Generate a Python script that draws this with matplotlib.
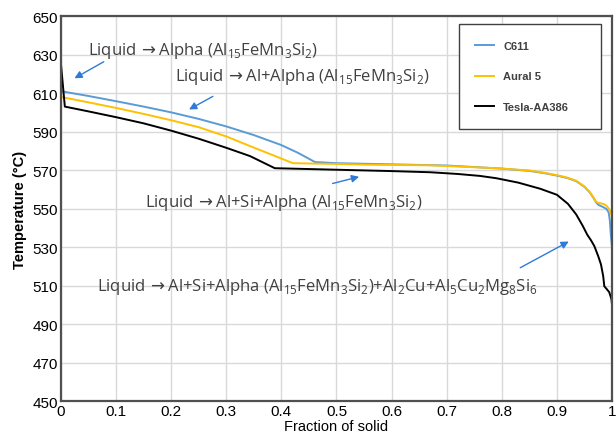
import matplotlib
matplotlib.use('Agg')
import matplotlib.pyplot as plt

# Daten
fs_c611 = [0, 0.05, 0.1, 0.15, 0.2, 0.25, 0.3, 0.35, 0.4, 0.43, 0.461, 0.5, 0.6, 0.7, 0.8, 0.85, 0.88, 0.906,
           0.92, 0.935, 0.95, 0.96, 0.967, 0.971, 0.975, 0.984, 0.99, 0.994, 0.996, 0.998, 1.0]
T_c611 = [611, 608.5, 605.8, 603, 600, 596.6, 592.7, 588.2, 583, 579, 574.2, 573.6, 573.0, 572.4, 570.8, 569.6, 568.3, 566.8,
          565.8, 564.3, 561.3, 558.3, 555.3, 553.3, 552, 550.8, 549.8, 548, 544, 536, 530]

fs_aural = [0, 0.05, 0.1, 0.15, 0.2, 0.25, 0.3, 0.343, 0.38, 0.421, 0.5, 0.56, 0.67, 0.79, 0.85, 0.88, 0.906,
            0.92, 0.935, 0.95, 0.96, 0.967, 0.971, 0.975, 0.985, 0.99, 0.995, 0.999, 1.0]
T_aural = [608, 605.2, 602.3, 599.2, 595.9, 592.3, 587.5, 582.5, 578.3, 573.6, 573.2, 572.8, 572.5, 571, 569.8, 568.5, 567,
           566, 564.5, 561.5, 558.5, 555.5, 553.6, 553, 552.4, 551.5, 549.7, 547, 545]

fs_tesla = [0, 0.007, 0.05, 0.1, 0.15, 0.2, 0.25, 0.3, 0.343, 0.388, 0.5, 0.6, 0.67, 0.72, 0.76, 0.79, 0.83, 0.87, 0.9, 0.92, 0.935,
            0.947, 0.955, 0.962, 0.968, 0.975, 0.98, 0.984, 0.986, 0.991, 0.995, 0.999, 1.0]
T_tesla = [625, 603, 600.5, 597.5, 594.3, 590.5, 586.3, 581.6, 577.3, 571, 570.2, 569.5, 568.9, 568, 567, 565.8, 563.5, 560.3, 557.2, 552.5, 547,
           541, 536.5, 533.5, 530.5, 525.3, 521, 515, 509.7, 508, 506.6, 503, 500]

serien = [("C611", fs_c611, T_c611, "#5b9bd5"),
          ("Aural 5", fs_aural, T_aural, "#ffc000"),
          ("Tesla-AA386", fs_tesla, T_tesla, "#000000")]

# Beschriftungen: Text, Textposition, Pfeil-Start, Pfeil-Spitze
sub = lambda s: r'$_{\mathdefault{' + s + '}}$'
pfeil = r'$\,\rightarrow$'
alpha_txt = 'Al' + sub('15') + 'FeMn' + sub('3') + 'Si' + sub('2')
texte = ['Liquid' + pfeil + 'Alpha (' + alpha_txt + ')',
         'Liquid' + pfeil + 'Al+Alpha (' + alpha_txt + ')',
         'Liquid' + pfeil + 'Al+Si+Alpha (' + alpha_txt + ')',
         'Liquid' + pfeil + 'Al+Si+Alpha (' + alpha_txt + ')+Al' + sub('2') + 'Cu+Al' + sub('5') + 'Cu' + sub('2') + 'Mg' + sub('8') + 'Si' + sub('6')]
text_pos = [(0.049, 632.5), (0.207, 618.8), (0.152, 553.4), (0.065, 509.7)]
pfeil_von = [(0.082, 627), (0.28, 609), (0.488, 562.7), (0.829, 518.6)]
pfeil_nach = [(0.02, 617), (0.228, 600.8), (0.546, 566.9), (0.926, 533.6)]

fig = plt.figure(figsize=(6.16, 4.39), dpi=100)
ax = fig.add_axes([0.099, 0.084, 0.8945, 0.877])

for name, x, y, farbe in serien:
    ax.plot(x, y, color=farbe, lw=1.4, label=name)

for t, p, a, b in zip(texte, text_pos, pfeil_von, pfeil_nach):
    ax.text(p[0], p[1], t, fontsize=12, family='Open Sans', color='#404040', va='center', ha='left')
    ax.annotate('', xy=b, xytext=a,
                arrowprops=dict(arrowstyle='-|>', color='#2f7ad8', lw=1, mutation_scale=11))

ax.set_xlim(0, 1)
ax.set_ylim(450, 650)
ax.set_xticks([i / 10 for i in range(11)])
ax.set_xticklabels(['0'] + ['0.%d' % i for i in range(1, 10)] + ['1'])
ax.set_yticks(range(450, 651, 20))
ax.tick_params(length=0, labelsize=11, pad=2)
for lab in ax.get_xticklabels() + ax.get_yticklabels():
    lab.set_family('Liberation Sans')
ax.grid(True, color='#d9d9d9', lw=1)
ax.set_axisbelow(True)
for s in ax.spines.values():
    s.set_color('#505050')
    s.set_linewidth(1.6)

ax.set_xlabel('Fraction of solid', fontsize=10.5, family='Liberation Sans', labelpad=1)
ax.set_ylabel('Temperature (°C)', fontsize=10.5, family='Liberation Sans', fontweight='bold', labelpad=4)

leg = ax.legend(loc='upper left', bbox_to_anchor=(0.722, 0.737, 0.258, 0.242), mode='expand',
                borderaxespad=0, fancybox=False, edgecolor='#404040', framealpha=1,
                prop={'family': 'Liberation Sans', 'weight': 'bold', 'size': 8},
                handlelength=1.7, handletextpad=0.8, labelspacing=1.85, borderpad=1.5)
leg.get_frame().set_linewidth(1.0)
for t in leg.get_texts():
    t.set_color('#404040')

fig.savefig('out.png', dpi=100)
